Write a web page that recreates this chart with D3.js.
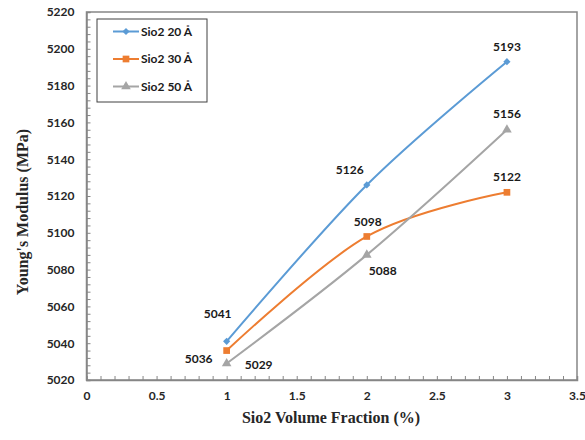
<!DOCTYPE html>
<html>
<head>
<meta charset="utf-8">
<script src="https://cdn.jsdelivr.net/npm/d3@7"></script>
<style>
  html, body { margin: 0; padding: 0; background: #fff; }
  svg { display: block; }
</style>
</head>
<body>
<svg id="chart" width="585" height="440"></svg>
<script>
// Volume fraction of SiO2 (%) and Young's modulus for three particle sizes
const fractions = [1, 2, 3];
const seriesNames = ["Sio2 20 Å", "Sio2 30 Å", "Sio2 50 Å"];
const modulus20 = [5041, 5126, 5193];
const modulus30 = [5036, 5098, 5122];
const modulus50 = [5029, 5088, 5156];
const xTicks = [0, 0.5, 1, 1.5, 2, 2.5, 3, 3.5];
const yTicks = [5020, 5040, 5060, 5080, 5100, 5120, 5140, 5160, 5180, 5200, 5220];

const colors = ["#5B9BD5", "#ED7D31", "#A5A5A5"];
const symbols = [d3.symbolSquare, d3.symbolSquare, d3.symbolTriangle];
const symbolSizes = [26, 45, 40];
const symbolRotate = [45, 0, 0];
// label offsets (dx, dy) relative to each point
const labelOffsets = [
  [[-9, -28], [-17, -15], [0, -15]],
  [[-28, 8], [1, -15], [0, -16]],
  [[32, 1], [16, 16], [0, -16]]
];

const svg = d3.select("#chart");
const margin = { left: 86.5, right: 8, top: 12, bottom: 60 };
const W = 585, H = 440;

const x = d3.scaleLinear().domain([0, 3.5]).range([margin.left, W - margin.right]);
const y = d3.scaleLinear().domain([5020, 5220]).range([H - margin.bottom, margin.top]);

const tickFont = "Lato, 'Open Sans', sans-serif";
const fontSize = 12;
const axisColor = "#868686";

// plot area border
svg.append("rect")
  .attr("x", x(0)).attr("y", y(5220))
  .attr("width", x(3.5) - x(0)).attr("height", y(5020) - y(5220))
  .attr("fill", "none").attr("stroke", axisColor).attr("stroke-width", 1.5);

// minor ticks pointing inward
const xMinor = d3.range(0, 3.5001, 0.1);
const yMinor = d3.range(5020, 5220.01, 4);
const xAxisG = svg.append("g").attr("transform", `translate(0,${y(5020)})`)
  .call(d3.axisTop(x).tickValues(xMinor).tickSize(4).tickFormat(""));
const yAxisG = svg.append("g").attr("transform", `translate(${x(0)},0)`)
  .call(d3.axisRight(y).tickValues(yMinor).tickSize(4).tickFormat(""));
[xAxisG, yAxisG].forEach(g => {
  g.select(".domain").attr("stroke", axisColor).attr("stroke-width", 1.5);
  g.selectAll(".tick line").attr("stroke", axisColor).attr("stroke-width", 1);
});

// tick labels
svg.append("g").attr("transform", `translate(0,${y(5020)})`)
  .call(d3.axisBottom(x).tickValues(xTicks).tickSize(0).tickPadding(11).tickFormat(d3.format("")))
  .call(g => g.select(".domain").remove())
  .call(g => g.selectAll("text").attr("font-family", tickFont).attr("font-weight", "bold")
    .attr("font-size", fontSize).attr("fill", "#262626"));
svg.append("g").attr("transform", `translate(${x(0)},0)`)
  .call(d3.axisLeft(y).tickValues(yTicks).tickSize(0).tickPadding(12).tickFormat(d3.format("")))
  .call(g => g.select(".domain").remove())
  .call(g => g.selectAll("text").attr("font-family", tickFont).attr("font-weight", "bold")
    .attr("font-size", fontSize).attr("fill", "#262626"));

// axis titles
svg.append("text")
  .attr("x", 331).attr("y", 423)
  .attr("text-anchor", "middle")
  .attr("font-family", "'Liberation Serif', 'Times New Roman', serif")
  .attr("font-weight", "bold").attr("font-size", 16).attr("fill", "#262626")
  .text("Sio2 Volume Fraction (%)");
svg.append("text")
  .attr("transform", "translate(28,212) rotate(-90)")
  .attr("text-anchor", "middle")
  .attr("font-family", "'Liberation Serif', 'Times New Roman', serif")
  .attr("font-weight", "bold").attr("font-size", 16).attr("fill", "#262626")
  .text("Young's Modulus (MPa)");

// series
const allSeries = [modulus20, modulus30, modulus50];
const line = d3.line()
  .x((d, i) => x(fractions[i]))
  .y(d => y(d))
  .curve(d3.curveCardinal.tension(0));

allSeries.forEach((vals, s) => {
  svg.append("path")
    .datum(vals)
    .attr("d", line)
    .attr("fill", "none")
    .attr("stroke", colors[s])
    .attr("stroke-width", 2);
});

allSeries.forEach((vals, s) => {
  const sym = d3.symbol().type(symbols[s]).size(symbolSizes[s]);
  svg.selectAll(null).data(vals).enter().append("path")
    .attr("d", sym)
    .attr("transform", (d, i) => `translate(${x(fractions[i])},${y(d)}) rotate(${symbolRotate[s]})`)
    .attr("fill", colors[s]);
  svg.selectAll(null).data(vals).enter().append("text")
    .attr("x", (d, i) => x(fractions[i]) + labelOffsets[s][i][0])
    .attr("y", (d, i) => y(d) + labelOffsets[s][i][1])
    .attr("dy", "0.35em")
    .attr("text-anchor", "middle")
    .attr("font-family", tickFont).attr("font-weight", "bold")
    .attr("font-size", fontSize).attr("fill", "#1a1a1a")
    .text(d => d);
});

// legend
const lg = svg.append("g");
lg.append("rect")
  .attr("x", 97).attr("y", 19).attr("width", 110).attr("height", 83)
  .attr("fill", "#fff").attr("stroke", "#404040").attr("stroke-width", 1);
seriesNames.forEach((name, s) => {
  const cy = 31.5 + s * 27.5;
  lg.append("line")
    .attr("x1", 113).attr("x2", 139).attr("y1", cy).attr("y2", cy)
    .attr("stroke", colors[s]).attr("stroke-width", 2);
  lg.append("path")
    .attr("d", d3.symbol().type(symbols[s]).size(symbolSizes[s])())
    .attr("transform", `translate(126,${cy}) rotate(${symbolRotate[s]})`)
    .attr("fill", colors[s]);
  lg.append("text")
    .attr("x", 141).attr("y", cy).attr("dy", "0.35em")
    .attr("font-family", tickFont).attr("font-weight", "bold")
    .attr("font-size", fontSize).attr("fill", "#1a1a1a")
    .text(name);
});
</script>
</body>
</html>
